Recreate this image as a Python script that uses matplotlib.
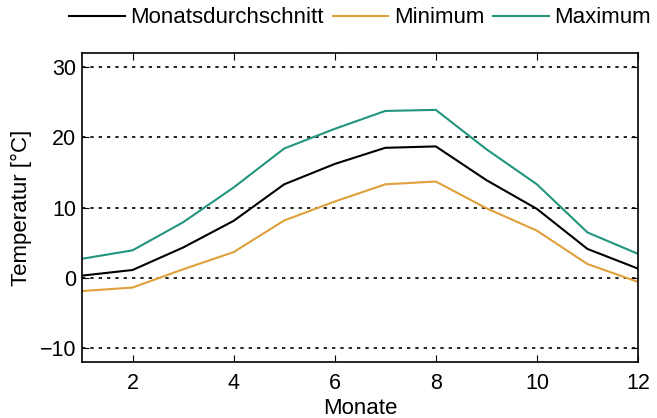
import matplotlib
matplotlib.use("Agg")
import matplotlib.pyplot as plt

plt.rcParams["font.family"] = ["Liberation Sans", "DejaVu Sans"]

MONTHS = list(range(1, 13))
AVG = [0.3, 1.1, 4.3, 8.1, 13.3, 16.2, 18.5, 18.7, 13.9, 9.8, 4.1, 1.3]
MIN = [-1.9, -1.4, 1.2, 3.65, 8.15, 10.85, 13.3, 13.7, 9.9, 6.7, 1.95, -0.6]
MAX = [2.7, 3.9, 7.9, 12.85, 18.4, 21.2, 23.75, 23.9, 18.3, 13.3, 6.45, 3.4]

X_TICKS = [2, 4, 6, 8, 10, 12]
Y_TICKS = [-10, 0, 10, 20, 30]

COLORS = {"avg": "#000000", "min": "#DFA03A", "max": "#22957F"}

fig = plt.figure(figsize=(6.57, 4.18), dpi=100)
ax = fig.add_axes([82 / 657, 1 - 362 / 418, 556 / 657, 309 / 418])

ax.plot(MONTHS, AVG, color=COLORS["avg"], lw=1.5, label="Monatsdurchschnitt")
ax.plot(MONTHS, MIN, color=COLORS["min"], lw=1.5, label="Minimum")
ax.plot(MONTHS, MAX, color=COLORS["max"], lw=1.5, label="Maximum")

# dotted horizontal guides at every y tick
for y in Y_TICKS:
    ax.axhline(y, color="black", lw=1.2, ls=(0, (2, 3)), zorder=0)

ax.set_xlim(1, 12)
ax.set_ylim(-12, 32)
ax.set_xticks(X_TICKS)
ax.set_yticks(Y_TICKS)
ax.set_yticklabels(["\u221210", "0", "10", "20", "30"])
ax.tick_params(direction="in", top=True, right=True, length=5, width=0.8,
               labelsize=15.5)
ax.tick_params(axis="x", pad=8)
ax.tick_params(axis="y", pad=4)
for s in ax.spines.values():
    s.set_linewidth(1.2)

ax.set_xlabel("Monate", fontsize=16, labelpad=2.5)
ax.set_ylabel("Temperatur [\u00b0C]", fontsize=16, labelpad=6)

ax.legend(loc="center", bbox_to_anchor=(278 / 556, 1 + 35 / 309), ncol=3,
          frameon=False, fontsize=16, handlelength=2.5, handletextpad=0.25,
          columnspacing=0.4, borderaxespad=0, borderpad=0)

fig.savefig("out.png", dpi=100)
